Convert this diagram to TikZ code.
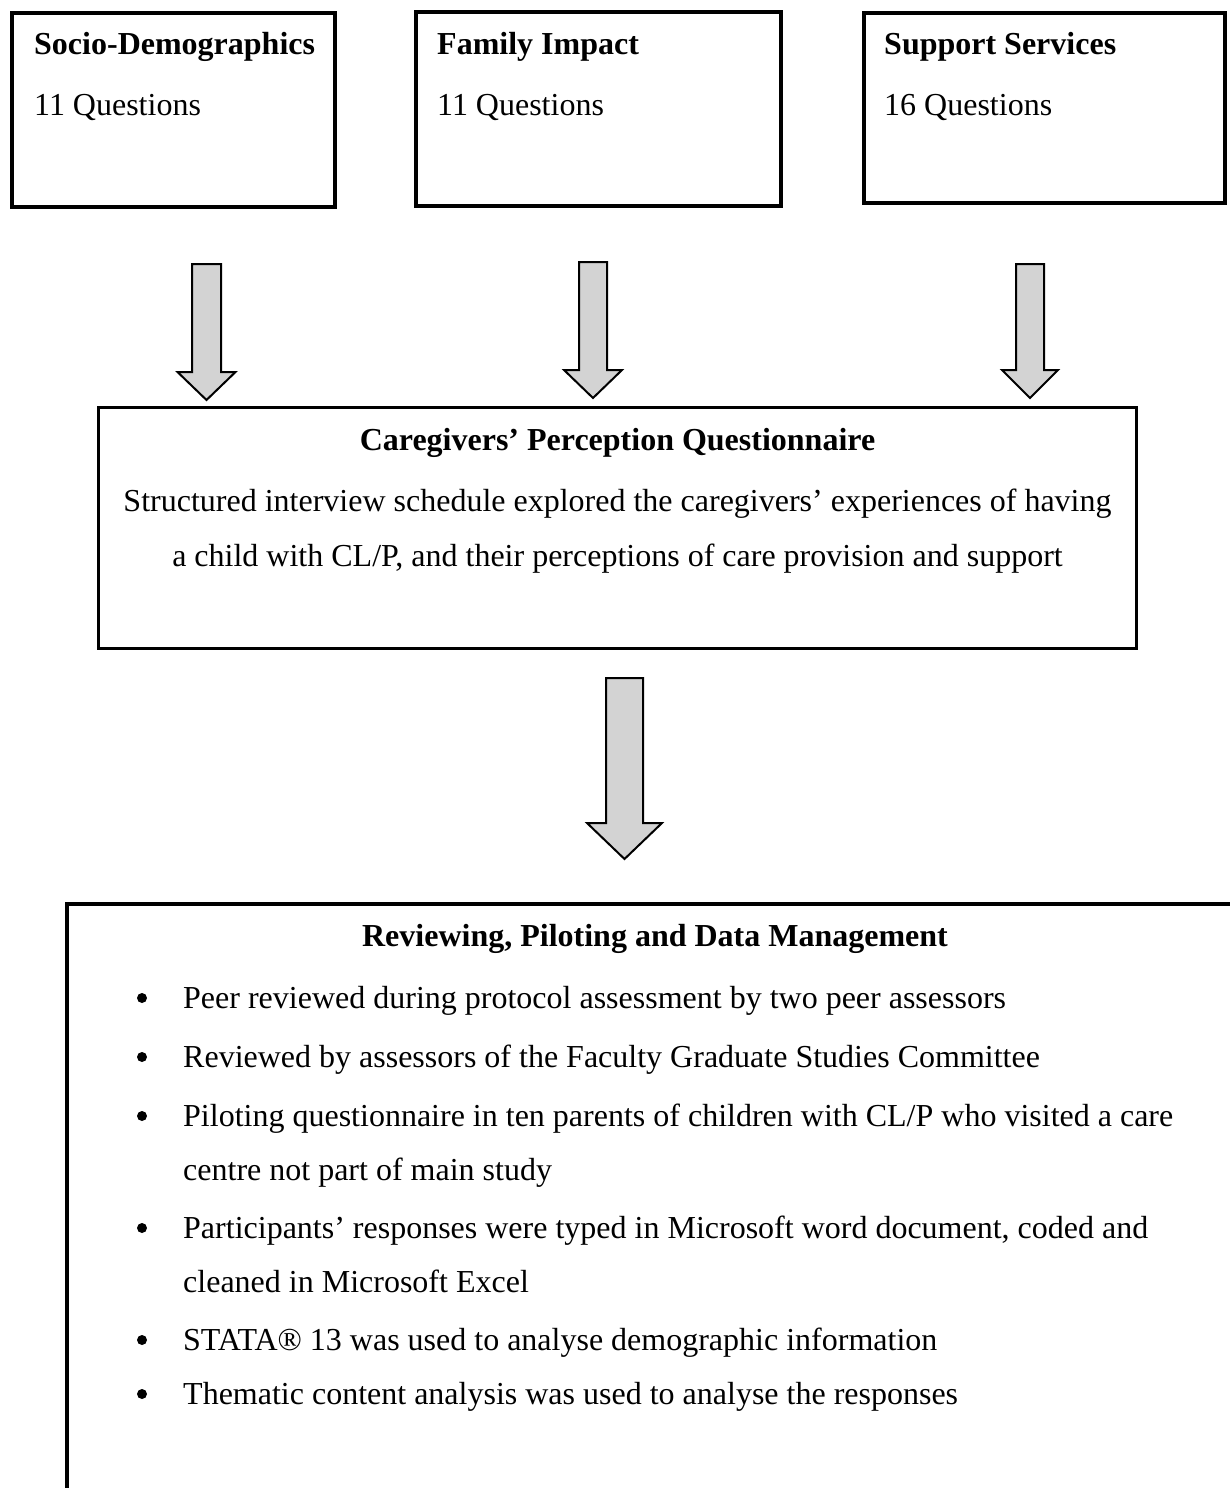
\documentclass[tikz,border=0pt]{standalone}
\usepackage{fontspec}
\setmainfont{Liberation Serif}
\definecolor{arrowgrey}{RGB}{211,211,211}
% hollow block arrow pointing down: centre x, top y, head base y, tip y, half shaft, half head
\newcommand\blockdown[6]{%
  \draw[blockarrow] (#1-#5,#2) -- (#1+#5,#2) -- (#1+#5,#3) -- (#1+#6,#3)
    -- (#1,#4) -- (#1-#6,#3) -- (#1-#5,#3) -- cycle;}
\begin{document}
\begin{tikzpicture}[x=1pt,y=-1pt,
  frame/.style={draw=black, line width=4pt, rectangle, inner sep=0pt},
  body/.style={inner sep=0pt, font=\fontsize{32}{40}\selectfont},
  head/.style={inner sep=0pt, font=\fontsize{32}{40}\selectfont\bfseries},
  blockarrow/.style={draw=black, line width=2pt, fill=arrowgrey, line join=miter},
  bulletdot/.style={circle, fill=black, inner sep=0pt, minimum size=10pt},
]
\useasboundingbox (0,0) rectangle (1229,1488);

% three source boxes
\node[frame, minimum width=323pt, minimum height=194pt] (socio) at (173.5,110) {};
\node[frame, minimum width=365pt, minimum height=194pt] (family) at (598.5,109) {};
\node[frame, minimum width=361pt, minimum height=190pt] (support) at (1044.5,108) {};

\node[head, anchor=base west] (sociot) at (34,55) {Socio-Demographics};
\node[body, anchor=base west] (socioq) at (34,115) {11 Questions};
\node[head, anchor=base west] (familyt) at (437,55) {Family Impact};
\node[body, anchor=base west] (familyq) at (437,115) {11 Questions};
\node[head, anchor=base west] (supportt) at (884,55) {Support Services};
\node[body, anchor=base west] (supportq) at (884,115) {16 Questions};

% arrows into the questionnaire
\blockdown{206.5}{264}{372}{400}{14.5}{29}
\blockdown{593}{262}{370}{398}{14}{29}
\blockdown{1030}{264}{370}{398}{14}{28}

% questionnaire box
\node[frame, line width=3pt, minimum width=1038pt, minimum height=241pt] (quest) at (617.5,528) {};
\node[head, anchor=base] (questt) at (617.5,450) {Caregivers’ Perception Questionnaire};
\node[body, anchor=base] (questa) at (617.5,511) {Structured interview schedule explored the caregivers’ experiences of having};
\node[body, anchor=base] (questb) at (617.5,566) {a child with CL/P, and their perceptions of care provision and support};

% arrow into the review box
\blockdown{624.5}{678}{823}{859}{18.5}{37.5}

% review box, running past the right and bottom edges
\draw[line width=4pt] (67,1560) -- (67,904) -- (1300,904);
\node[head, anchor=base] (reviewt) at (655,946) {Reviewing, Piloting and Data Management};

\foreach \y/\t [count=\i] in {
  1008/{Peer reviewed during protocol assessment by two peer assessors},
  1067/{Reviewed by assessors of the Faculty Graduate Studies Committee},
  1126/{Piloting questionnaire in ten parents of children with CL/P who visited a care},
  1238/{Participants’ responses were typed in Microsoft word document, coded and},
  1350/{STATA® 13 was used to analyse demographic information},
  1404/{Thematic content analysis was used to analyse the responses}}{
  \node[bulletdot] (dot\i) at (142,\y-10) {};
  \node[body, anchor=base west] (item\i) at (183,\y) {\t};
}
\node[body, anchor=base west] (item3b) at (183,1180) {centre not part of main study};
\node[body, anchor=base west] (item4b) at (183,1292) {cleaned in Microsoft Excel};
\end{tikzpicture}
\end{document}
